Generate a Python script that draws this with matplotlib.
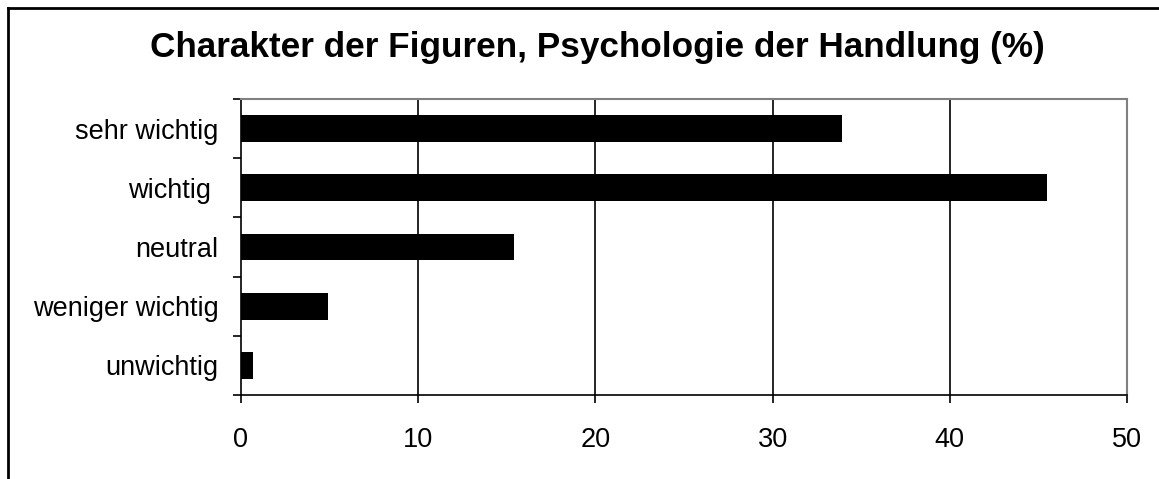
import matplotlib
matplotlib.use('Agg')
import matplotlib.pyplot as plt
from matplotlib.lines import Line2D
import numpy as np

plt.rcParams['font.family'] = ['Liberation Sans', 'DejaVu Sans']

categories = ['sehr wichtig', 'wichtig ', 'neutral', 'weniger wichtig', 'unwichtig']
values = [33.9, 45.5, 15.4, 4.9, 0.7]
x_ticks = [0, 10, 20, 30, 40, 50]
title = 'Charakter der Figuren, Psychologie der Handlung (%)'

W, H = 1159, 479
fig = plt.figure(figsize=(W / 100, H / 100), dpi=100)
ax = fig.add_axes([241 / W, 1 - 395 / H, 886 / W, 296 / H])

ypos = np.arange(len(categories))
ax.barh(ypos, values, height=0.45, color='black', zorder=3)
ax.set_ylim(len(categories) - 0.5, -0.5)
ax.set_xlim(0, 50)

ax.set_xticks(x_ticks)
ax.set_yticks(ypos)
ax.set_yticklabels(categories)
ax.set_yticks(np.arange(-0.5, len(categories)), minor=True)
ax.tick_params(axis='y', which='major', length=0, pad=16, labelsize=19.5)
ax.tick_params(axis='y', which='minor', length=6, width=1.2, direction='out')
ax.tick_params(axis='x', length=6, width=1.2, direction='out', pad=17, labelsize=19.5)

for xv in x_ticks[1:-1]:
    ax.axvline(xv, color='black', linewidth=1.2, zorder=1)

for side in ['top', 'right']:
    ax.spines[side].set_color('#808080')
    ax.spines[side].set_linewidth(1.5)
for side in ['left', 'bottom']:
    ax.spines[side].set_color('black')
    ax.spines[side].set_linewidth(1.2)

fig.text(597 / W, 1 - 48 / H, title, ha='center', va='center',
         fontsize=25.3, fontweight='bold')

# outer chart frame (cut off at right and bottom)
fig.add_artist(Line2D([8 / W, 8 / W], [-0.05, 1 - 8 / H], color='black',
                      linewidth=2, transform=fig.transFigure))
fig.add_artist(Line2D([8 / W, 1.05], [1 - 8 / H, 1 - 8 / H], color='black',
                      linewidth=2, transform=fig.transFigure))

fig.savefig('out.png', dpi=100)
